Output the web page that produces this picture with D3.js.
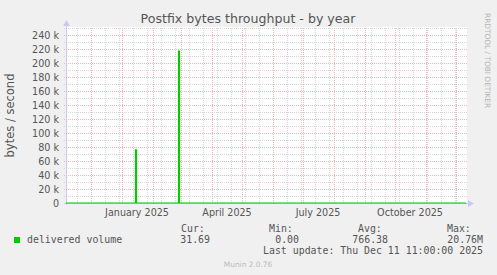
<!DOCTYPE html>
<html>
<head>
<meta charset="utf-8">
<script src="https://cdn.jsdelivr.net/npm/d3@7"></script>
<style>
  body { margin: 0; background: #f0f0f0; }
  svg { display: block; }
  text { font-family: "DejaVu Sans", sans-serif; }
  .mono text { font-family: "DejaVu Sans Mono", monospace; }
</style>
</head>
<body>
<svg id="chart" width="497" height="275"></svg>
<script>
// data (daily consolidation)
const sampleDates = ['2024-11-06', '2025-01-15', '2025-01-16', '2025-02-27', '2025-02-28', '2025-12-11'];
const sampleValues = [0, 76000, 0, 217000, 0, 31.69];

const yTicks = [0, 20000, 40000, 60000, 80000, 100000, 120000, 140000, 160000, 180000, 200000, 220000, 240000];
const yTickLabels = ['0', '20 k', '40 k', '60 k', '80 k', '100 k', '120 k', '140 k', '160 k', '180 k', '200 k', '220 k', '240 k'];
const yMinorTicks = [10000, 30000, 50000, 70000, 90000, 110000, 130000, 150000, 170000, 190000, 210000, 230000, 250000];

const xLabelDates = ['2025-01-01', '2025-04-01', '2025-07-01', '2025-10-01'];
const xLabels = ['January 2025', 'April 2025', 'July 2025', 'October 2025'];

const legendNames = ['delivered volume'];
const legendCur = ['31.69'];
const legendMin = ['0.00'];
const legendAvg = ['766.38'];
const legendMax = ['20.76M'];
const lastUpdate = 'Last update: Thu Dec 11 11:00:00 2025';

const parse = d3.utcParse('%Y-%m-%d');
const tStart = new Date(Date.UTC(2024, 10, 6, 11));
const tEnd = new Date(Date.UTC(2025, 11, 11, 11));

const svg = d3.select('#chart');
const margin = {left: 66, top: 28, width: 400, height: 175};

const x = d3.scaleUtc()
  .domain([tStart, tEnd])
  .range([margin.left, margin.left + margin.width]);

const y = d3.scaleLinear()
  .domain([0, 250000])
  .range([margin.top + margin.height, margin.top]);

// canvas
svg.append('rect')
  .attr('x', margin.left)
  .attr('y', margin.top - 1)
  .attr('width', margin.width + 1)
  .attr('height', margin.height + 1)
  .attr('fill', '#ffffff');

const grid = svg.append('g').attr('shape-rendering', 'crispEdges');
const minorColor = '#d6d6d6';
const majorColor = '#f0b4b4';

// minor vertical grid: every second week, sundays
const minorX = d3.utcSunday.every(2).range(new Date(Date.UTC(2024, 10, 17)), tEnd);
grid.selectAll('line.vminor')
  .data(minorX)
  .join('line')
  .attr('x1', d => Math.round(x(d)) + 0.5)
  .attr('x2', d => Math.round(x(d)) + 0.5)
  .attr('y1', margin.top)
  .attr('y2', margin.top + margin.height)
  .attr('stroke', minorColor)
  .attr('stroke-dasharray', '1,1');

// minor horizontal grid
grid.selectAll('line.hminor')
  .data(yMinorTicks)
  .join('line')
  .attr('x1', margin.left - 2)
  .attr('x2', margin.left + margin.width + 1)
  .attr('y1', d => Math.round(y(d)) + 0.5)
  .attr('y2', d => Math.round(y(d)) + 0.5)
  .attr('stroke', minorColor)
  .attr('stroke-dasharray', '1,1');

// major vertical grid: month starts
const majorX = d3.utcMonth.range(tStart, tEnd);
grid.selectAll('line.vmajor')
  .data(majorX)
  .join('line')
  .attr('x1', d => Math.round(x(d)) + 0.5)
  .attr('x2', d => Math.round(x(d)) + 0.5)
  .attr('y1', margin.top)
  .attr('y2', margin.top + margin.height)
  .attr('stroke', majorColor)
  .attr('stroke-dasharray', '1,1');

// major horizontal grid
grid.selectAll('line.hmajor')
  .data(yTicks.slice(1))
  .join('line')
  .attr('x1', margin.left - 2)
  .attr('x2', margin.left + margin.width + 1)
  .attr('y1', d => Math.round(y(d)) + 0.5)
  .attr('y2', d => Math.round(y(d)) + 0.5)
  .attr('stroke', majorColor)
  .attr('stroke-dasharray', '1,1');

// y labels
svg.append('g')
  .selectAll('text')
  .data(yTicks)
  .join('text')
  .attr('x', margin.left - 7)
  .attr('y', d => y(d) + 3.5)
  .attr('text-anchor', 'end')
  .attr('font-size', 9.6)
  .attr('fill', '#555')
  .text((d, i) => yTickLabels[i]);

// x labels, centred half a month after the month start
svg.append('g')
  .selectAll('text')
  .data(xLabelDates.map(parse))
  .join('text')
  .attr('x', d => x(new Date(+d + 15.5 * 864e5)))
  .attr('y', margin.top + margin.height + 13)
  .attr('text-anchor', 'middle')
  .attr('font-size', 9.6)
  .attr('fill', '#555')
  .text((d, i) => xLabels[i]);

// axes
const axisColor = '#c8c8f4';
svg.append('line')
  .attr('x1', margin.left + 0.5).attr('x2', margin.left + 0.5)
  .attr('y1', margin.top - 3).attr('y2', margin.top + margin.height + 2)
  .attr('stroke', axisColor);
svg.append('line')
  .attr('x1', margin.left - 2).attr('x2', margin.left + margin.width + 3)
  .attr('y1', margin.top + margin.height + 0.5).attr('y2', margin.top + margin.height + 0.5)
  .attr('stroke', axisColor);
svg.append('path')
  .attr('d', d3.line()([[margin.left - 3, margin.top - 2], [margin.left + 4, margin.top - 2], [margin.left + 0.5, margin.top - 8]]))
  .attr('fill', axisColor);
svg.append('path')
  .attr('d', d3.line()([[margin.left + margin.width + 2, margin.top + margin.height - 3], [margin.left + margin.width + 2, margin.top + margin.height + 4], [margin.left + margin.width + 8, margin.top + margin.height + 0.5]]))
  .attr('fill', axisColor);

// data line
const points = sampleDates.map((d, i) => [parse(d), sampleValues[i]]);
points[0][0] = tStart;
points[points.length - 1][0] = tEnd;
svg.append('path')
  .datum(points)
  .attr('fill', 'none')
  .attr('stroke', '#00cc00')
  .attr('stroke-width', 1.2)
  .attr('d', d3.line()
    .curve(d3.curveStepAfter)
    .x(d => x(d[0]))
    .y(d => y(d[1])));

// title
svg.append('text')
  .attr('x', 248)
  .attr('y', 23)
  .attr('text-anchor', 'middle')
  .attr('font-size', 12.6)
  .attr('fill', '#555')
  .text('Postfix bytes throughput - by year');

// vertical axis title
svg.append('text')
  .attr('transform', 'translate(14,' + (margin.top + margin.height / 2) + ') rotate(-90)')
  .attr('text-anchor', 'middle')
  .attr('font-size', 11.5)
  .attr('fill', '#555')
  .text('bytes / second');

// rrdtool watermark
svg.append('text')
  .attr('transform', 'translate(485,13) rotate(90)')
  .attr('font-size', 7.4)
  .attr('fill', '#b4b4b4')
  .text('RRDTOOL / TOBI OETIKER');

// legend
const leg = svg.append('g').attr('class', 'mono').attr('font-size', 9.9).attr('fill', '#555');
const row0 = 232, row1 = 243, row2 = 254;
leg.append('text').attr('x', 181).attr('y', row0).text('Cur:');
leg.append('text').attr('x', 269).attr('y', row0).text('Min:');
leg.append('text').attr('x', 358).attr('y', row0).text('Avg:');
leg.append('text').attr('x', 447).attr('y', row0).text('Max:');

legendNames.forEach((name, i) => {
  svg.append('rect')
    .attr('x', 14).attr('y', 237 + i * 11)
    .attr('width', 6).attr('height', 6)
    .attr('fill', '#00cc00');
  leg.append('text').attr('x', 27).attr('y', row1 + i * 11).text(name);
  leg.append('text').attr('x', 210).attr('y', row1 + i * 11).attr('text-anchor', 'end').text(legendCur[i]);
  leg.append('text').attr('x', 299).attr('y', row1 + i * 11).attr('text-anchor', 'end').text(legendMin[i]);
  leg.append('text').attr('x', 388).attr('y', row1 + i * 11).attr('text-anchor', 'end').text(legendAvg[i]);
  leg.append('text').attr('x', 483).attr('y', row1 + i * 11).attr('text-anchor', 'end').text(legendMax[i]);
});
leg.append('text').attr('x', 483).attr('y', row2).attr('text-anchor', 'end').text(lastUpdate);

svg.append('text')
  .attr('x', 248)
  .attr('y', 267)
  .attr('text-anchor', 'middle')
  .attr('font-size', 7.4)
  .attr('fill', '#bbb')
  .text('Munin 2.0.76');
</script>
</body>
</html>
